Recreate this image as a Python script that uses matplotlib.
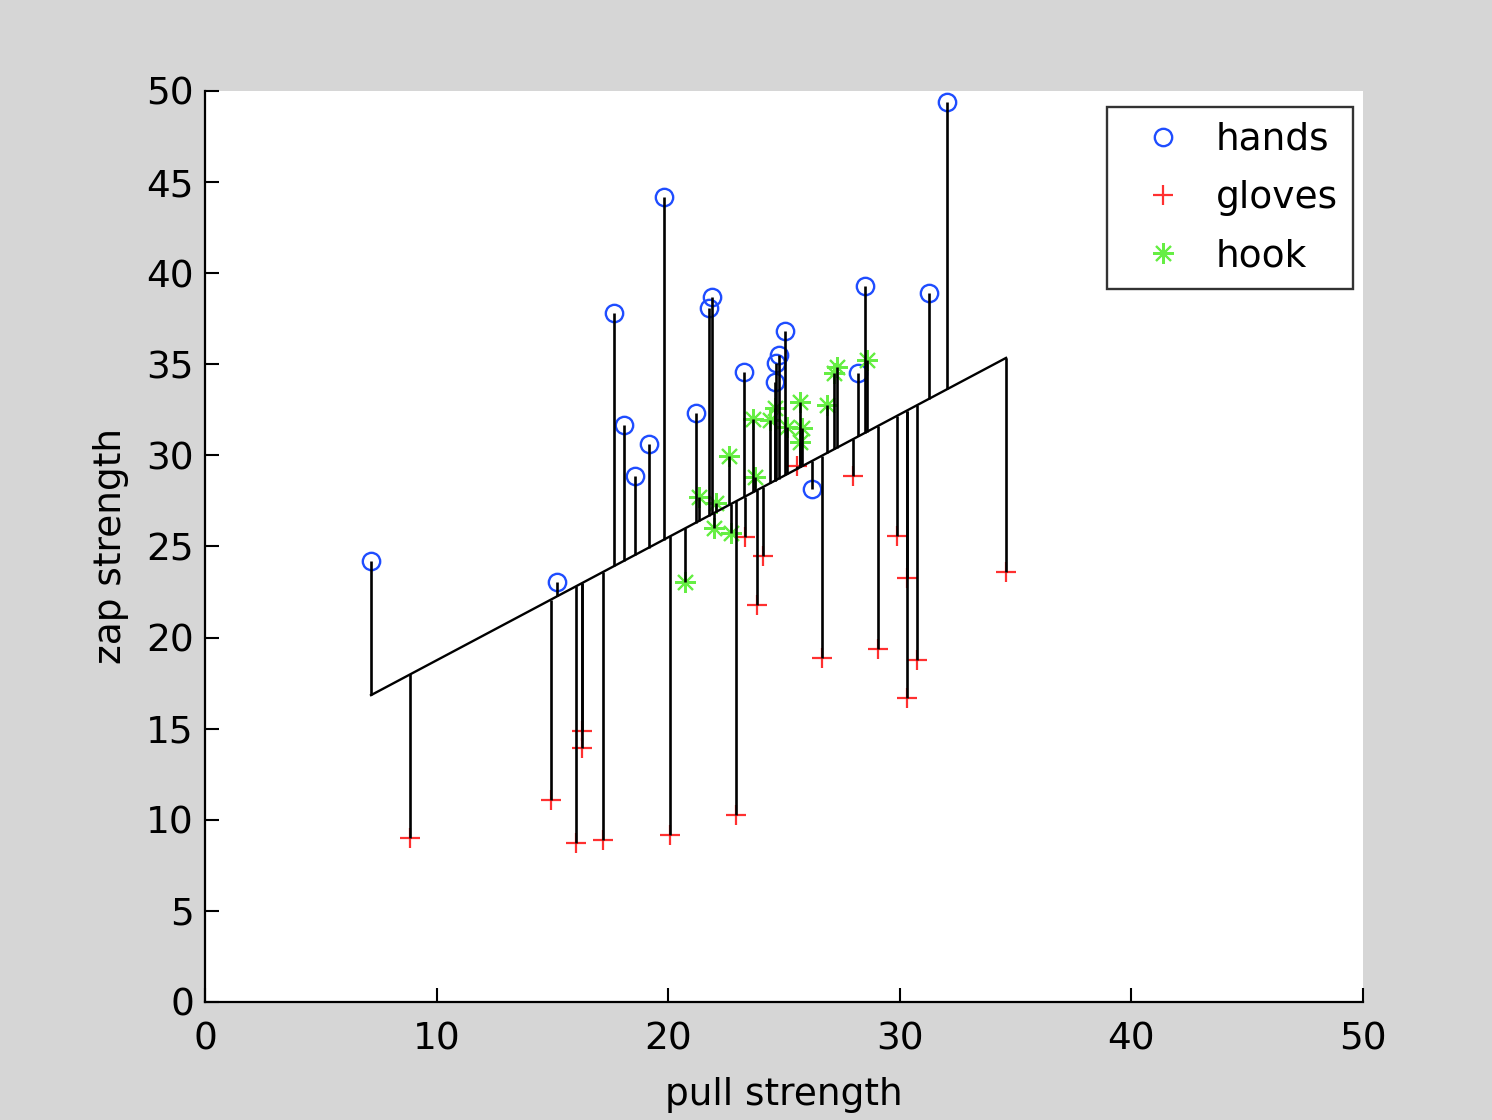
import matplotlib
matplotlib.use('Agg')
import matplotlib.pyplot as plt
import numpy as np

# data
hands_x = [7.17, 15.2, 17.66, 18.09, 18.57, 19.17, 19.82, 21.2, 21.76, 21.9,
           23.27, 24.6, 24.65, 24.78, 25.04, 26.2, 28.2, 28.5, 31.26, 32.04]
hands_y = [24.2, 23.05, 37.8, 31.67, 28.87, 30.6, 44.2, 32.3, 38.1, 38.7,
           34.6, 34.0, 35.07, 35.5, 36.8, 28.15, 34.5, 39.3, 38.9, 49.4]

gloves_x = [8.85, 14.94, 16.02, 16.28, 16.28, 17.18, 20.08, 22.93, 23.3, 23.83,
            24.1, 25.56, 26.64, 27.98, 29.06, 29.9, 30.3, 30.3, 30.74, 34.59]
gloves_y = [9.0, 11.09, 8.73, 14.87, 13.94, 8.89, 9.17, 10.26, 25.5, 21.8,
            24.5, 29.4, 18.9, 28.87, 19.37, 25.6, 16.7, 23.27, 18.77, 23.6]

hook_x = [20.73, 21.33, 22.06, 21.98, 22.63, 22.71, 23.66, 23.75, 24.4, 24.61,
          25.13, 25.69, 25.78, 25.69, 26.86, 27.16, 27.29, 28.58]
hook_y = [23.05, 27.72, 27.39, 26.0, 29.97, 25.74, 32.0, 28.81, 31.94, 32.6,
          31.56, 32.93, 31.5, 30.73, 32.77, 34.52, 34.85, 35.24]

# fitted line
intercept = 12.0
slope = 0.675

plt.rcParams['font.family'] = ['DejaVu Sans']

fig = plt.figure(figsize=(14.92, 11.2), dpi=100, facecolor='#d6d6d6')
ax = fig.add_axes([0.1374, 0.1054, 0.7761, 0.8134])
ax.set_facecolor('white')

# points
ax.plot(hands_x, hands_y, 'o', mfc='none', mec='#1f4dff', ms=12.5, mew=1.7,
        label='hands', zorder=2)
ax.plot(gloves_x, gloves_y, '+', color='#ff3030', ms=15, mew=1.6,
        label='gloves', zorder=2)
ax.plot(hook_x, hook_y, linestyle='none', marker=(8, 2, 0), color='#66ee44',
        ms=15, mew=1.5, label='hook', zorder=2)

# residual lines
all_x = np.array(hands_x + gloves_x + hook_x)
all_y = np.array(hands_y + gloves_y + hook_y)
fit_y = intercept + slope * all_x
ax.vlines(all_x, all_y, fit_y, color='black', lw=1.9, zorder=3)

# fitted line
xl = np.array([all_x.min(), all_x.max()])
ax.plot(xl, intercept + slope * xl, color='black', lw=1.7, zorder=3)

ax.set_xlim(0, 50)
ax.set_ylim(0, 50)
ax.set_xticks(range(0, 51, 10))
ax.set_yticks(range(0, 51, 5))
ax.tick_params(direction='in', length=10, width=1.5, labelsize=27, pad=14)
ax.tick_params(axis='y', pad=8)
for s in ['top', 'right']:
    ax.spines[s].set_visible(False)
for s in ['left', 'bottom']:
    ax.spines[s].set_linewidth(1.6)

ax.set_xlabel('pull strength', fontsize=27, labelpad=14)
ax.set_ylabel('zap strength', fontsize=27, labelpad=12)

leg = ax.legend(loc='upper right', bbox_to_anchor=(0.9914, 0.9824),
                borderaxespad=0, numpoints=1,
                fontsize=27, frameon=True, fancybox=False, edgecolor='black',
                handlelength=2.2, handletextpad=0.3, labelspacing=0.59,
                borderpad=0.4)
leg.get_frame().set_linewidth(1.7)

fig.savefig('out.png', dpi=100, facecolor=fig.get_facecolor())
